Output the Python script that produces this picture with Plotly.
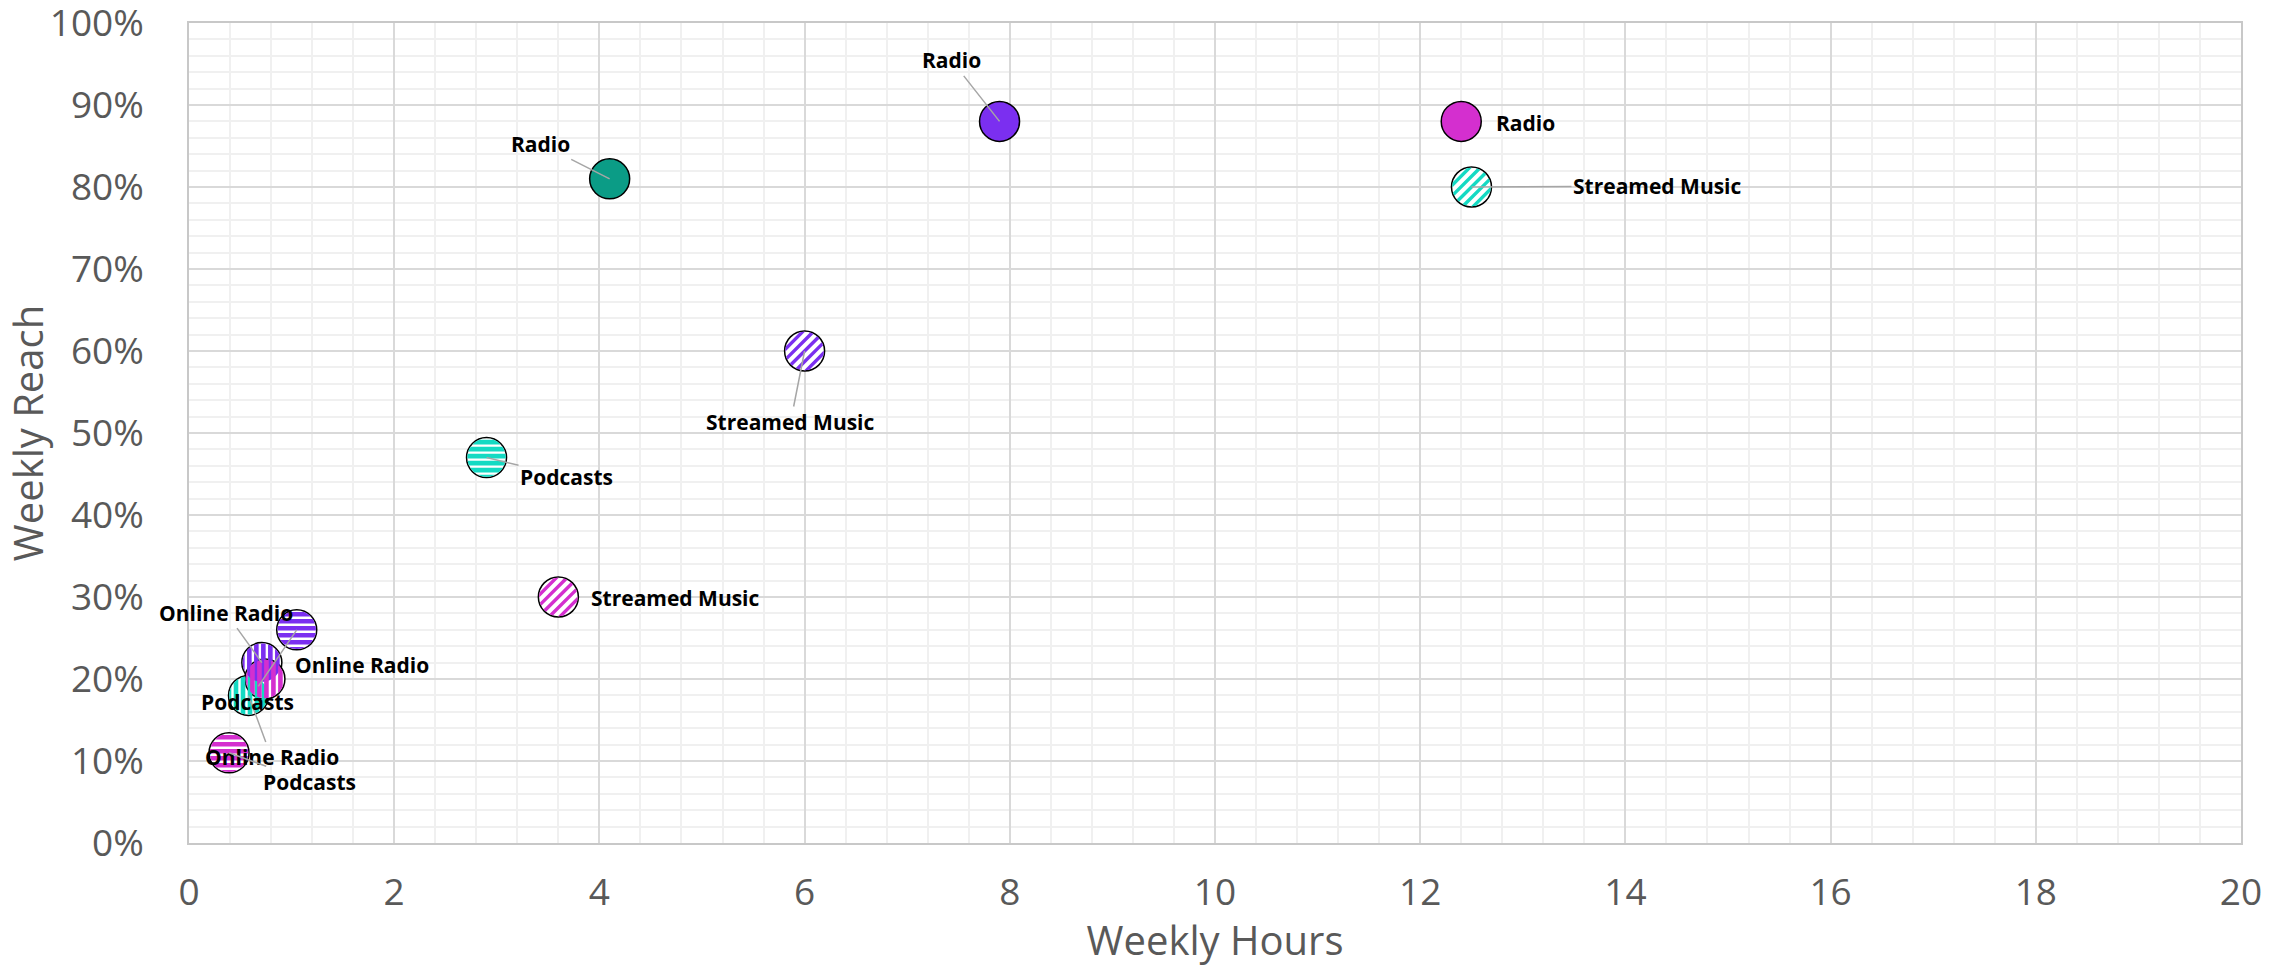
import math
import plotly.graph_objects as go

# ---------------- data ----------------
platforms = ["Radio", "Streamed Music", "Podcasts", "Online Radio"]
groups = ["Group A", "Group B", "Group C"]

group_a_hours = [4.1, 12.5, 2.9, 0.58]
group_a_reach = [0.81, 0.80, 0.47, 0.18]

group_b_hours = [7.9, 6.0, 1.05, 0.71]
group_b_reach = [0.88, 0.60, 0.26, 0.22]

group_c_hours = [12.4, 3.6, 0.39, 0.74]
group_c_reach = [0.88, 0.30, 0.11, 0.20]

x_ticks = list(range(0, 21, 2))
y_ticks = [i / 10 for i in range(0, 11)]

# ---------------- styles ----------------
solid_colors = ["#0B9C86", "#7B2FF0", "#D42FCF"]
pattern_colors = ["#14DAC3", "#7B2FF0", "#D42FCF"]
# pattern per platform: None = solid, 'd' = diagonal, 'h' = horizontal, 'v' = vertical
platform_patterns = [None, "d", "h", "v"]

# label offsets in screen px (dx, dy) and whether a leader line is drawn
label_layout = [
    [(-69, -35, True), (186, -1, True), (80, 19, True), (23, 62, True)],
    [(-48, -61, True), (-14, 71, True), (-49, 72, True), (-36, -50, True)],
    [(64, 2, False), (117, 1, False), (80, 29, True), (97, -14, False)],
]

hours = [group_a_hours, group_b_hours, group_c_hours]
reach = [group_a_reach, group_b_reach, group_c_reach]

MARKER_SIZE = 40
R_IN = 19.2


def band_path(r, nvec, a, b, steps=14):
    nx, ny = nvec
    tx, ty = -ny, nx
    a = max(a, -r)
    b = min(b, r)
    pts = []
    for i in range(steps + 1):
        s = a + (b - a) * i / steps
        h = math.sqrt(max(r * r - s * s, 0))
        pts.append((s * nx + h * tx, s * ny + h * ty))
    for i in range(steps, -1, -1):
        s = a + (b - a) * i / steps
        h = math.sqrt(max(r * r - s * s, 0))
        pts.append((s * nx - h * tx, s * ny - h * ty))
    return "M " + " L ".join(f"{px:.2f},{py:.2f}" for px, py in pts) + " Z"


def pattern_shapes(xv, yv, kind, color):
    if kind == "h":
        nvec, period, width, phase = (0.0, 1.0), 7.0, 4.6, 1.5
    elif kind == "v":
        nvec, period, width, phase = (1.0, 0.0), 7.0, 4.6, 1.5
    else:
        nvec, period, width, phase = (1 / math.sqrt(2), -1 / math.sqrt(2)), 7.5, 3.4, 0.0
    out = []
    for k in range(-8, 9):
        c = k * period + phase
        a, b = c - width / 2, c + width / 2
        if b <= -R_IN or a >= R_IN:
            continue
        out.append(dict(
            type="path", path=band_path(R_IN, nvec, a, b),
            xref="x", yref="y", xsizemode="pixel", ysizemode="pixel",
            xanchor=xv, yanchor=yv, fillcolor=color,
            line=dict(width=0), layer="above",
        ))
    return out


fig = go.Figure()
shapes = []
annotations = []

for gi, gname in enumerate(groups):
    fills = []
    for pi, p in enumerate(platforms):
        if platform_patterns[pi] is None:
            fills.append(solid_colors[gi])
        else:
            fills.append("#FFFFFF")
            shapes += pattern_shapes(hours[gi][pi], reach[gi][pi],
                                     platform_patterns[pi], pattern_colors[gi])
    fig.add_trace(go.Scatter(
        x=hours[gi], y=reach[gi], mode="markers", name=gname,
        text=platforms,
        marker=dict(size=MARKER_SIZE, color=fills,
                    line=dict(color="#000000", width=1.5)),
        hovertemplate="%{text}<br>%{x} h<br>%{y:.0%}<extra>" + gname + "</extra>",
        showlegend=False,
    ))
    for pi, p in enumerate(platforms):
        dx, dy, leader = label_layout[gi][pi]
        common = dict(x=hours[gi][pi], y=reach[gi][pi], xref="x", yref="y",
                      text=p, font=dict(family="Open Sans", size=21,
                                        color="#000000", weight="bold"))
        if leader:
            annotations.append(dict(**common, showarrow=True, ax=dx, ay=dy,
                                    axref="pixel", ayref="pixel",
                                    arrowhead=0, arrowwidth=1.5,
                                    arrowcolor="#A6A6A6", standoff=0))
        else:
            annotations.append(dict(**common, showarrow=False,
                                    xanchor="center", yanchor="middle",
                                    xshift=dx, yshift=-dy))

axis_font = dict(family="Open Sans", size=37, color="#595959")
title_font = dict(family="Open Sans", size=40, color="#595959")

fig.update_layout(
    width=2292, height=967,
    margin=dict(l=189, r=51, t=23, b=124, autoexpand=False),
    paper_bgcolor="#FFFFFF", plot_bgcolor="#FFFFFF",
    shapes=shapes, annotations=annotations,
    xaxis=dict(
        range=[0, 20], tickvals=x_ticks, ticktext=[str(v) for v in x_ticks],
        showgrid=True, gridcolor="#D9D9D9", gridwidth=1.5,
        minor=dict(dtick=0.4, showgrid=True, gridcolor="#F0F0F0", gridwidth=1.5),
        showline=True, linecolor="#C8C8C8", linewidth=1.5, mirror=True,
        zeroline=False, ticks="", tickfont=axis_font, ticklabelstandoff=16,
        ticklabeloverflow="allow",
        title=dict(text="Weekly Hours", font=title_font, standoff=22),
        fixedrange=True,
    ),
    yaxis=dict(
        range=[0, 1], tickvals=y_ticks, tickformat=".0%",
        showgrid=True, gridcolor="#D9D9D9", gridwidth=1.5,
        minor=dict(dtick=0.02, showgrid=True, gridcolor="#F0F0F0", gridwidth=1.5),
        showline=True, linecolor="#C8C8C8", linewidth=1.5, mirror=True,
        zeroline=False, ticks="", tickfont=axis_font, ticklabelstandoff=36,
        ticklabeloverflow="allow",
        title=dict(text="Weekly Reach", font=title_font, standoff=2),
        fixedrange=True,
    ),
)

fig.write_html(
    "out.html",
    config={"displayModeBar": False},
    post_script="document.body.style.margin='0';document.body.style.overflow='hidden';",
)
